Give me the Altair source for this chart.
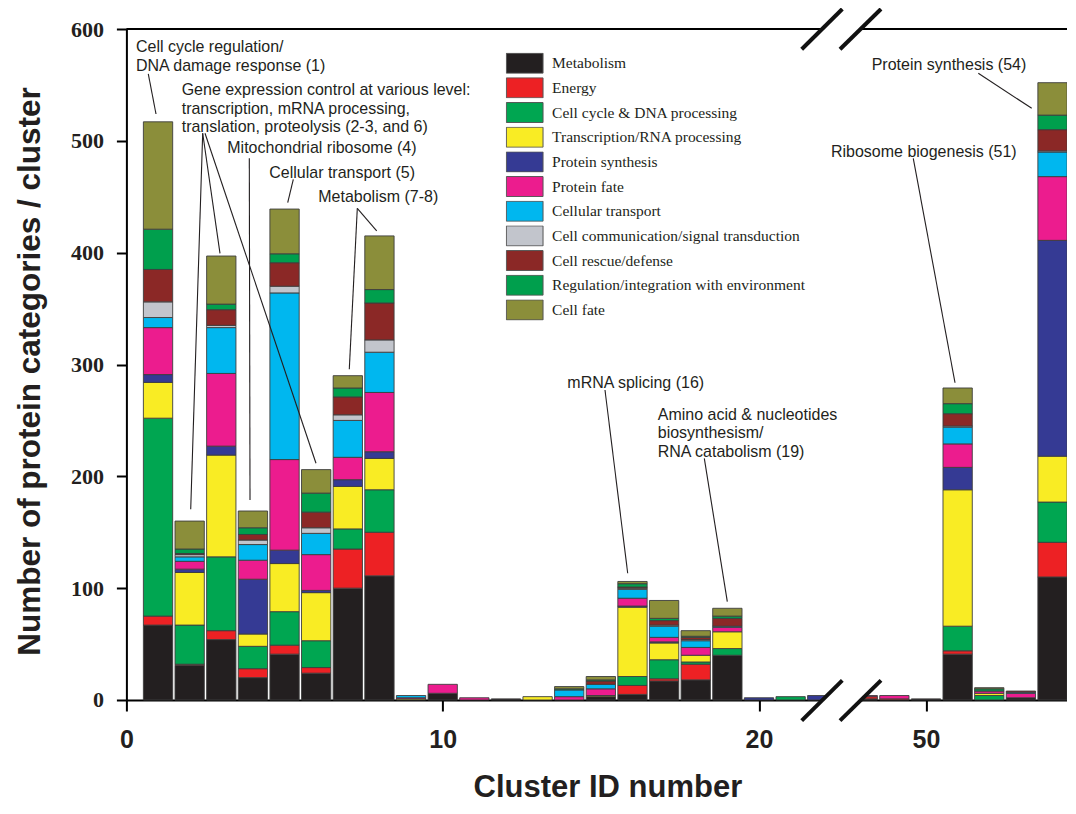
import altair as alt
import pandas as pd

# ---------------- data ----------------
clusters = list(range(1, 23)) + [48, 49, 50, 51, 52, 53, 54]

categories = [
    "Metabolism",
    "Energy",
    "Cell cycle & DNA processing",
    "Transcription/RNA processing",
    "Protein synthesis",
    "Protein fate",
    "Cellular transport",
    "Cell communication/signal transduction",
    "Cell rescue/defense",
    "Regulation/integration with environment",
    "Cell fate",
]
colors = ["#231f20", "#ed2124", "#00a651", "#f9ec24", "#353a94", "#ec1c8e",
          "#00b7ef", "#c2c5cc", "#8b2826", "#009f4d", "#8b8e3a"]

#             1    2   3   4    5   6    7    8  9 10 11 12 13 14 15  16  17  18  19 20 21 22 48 49 50   51 52 53   54
metabolism = [67, 31, 54, 20, 41, 24, 100, 111, 0, 6, 0, 1, 0, 0, 3, 5, 17, 18, 40, 0, 0, 0, 1, 0, 1, 41, 0, 2, 110]
energy = [8, 1, 8, 8, 8, 5, 35, 39, 0, 0, 0, 0, 0, 0, 0, 8, 2, 14, 0, 0, 0, 0, 2, 1, 0, 3, 0, 0, 31]
cell_cycle = [177, 35, 66, 20, 30, 24, 18, 38, 0, 0, 0, 0, 0, 0, 0, 8, 17, 2, 6, 0, 3, 0, 0, 0, 0, 22, 4, 0, 36]
transcription = [32, 47, 91, 11, 43, 43, 38, 28, 1, 0, 0, 0, 3, 0, 1, 62, 15, 6, 15, 0, 0, 0, 0, 0, 0, 122, 2, 0, 41]
protein_synth = [7, 3, 8, 49, 12, 2, 6, 6, 0, 0, 0, 0, 0, 0, 0, 1, 1, 0, 0, 2, 0, 4, 0, 0, 0, 20, 0, 0, 193]
protein_fate = [42, 7, 65, 17, 81, 32, 20, 53, 1, 8, 2, 0, 0, 3, 6, 7, 4, 7, 4, 0, 0, 0, 1, 3, 0, 21, 2, 4, 57]
transport = [9, 4, 41, 14, 149, 19, 33, 36, 2, 0, 0, 0, 0, 6, 4, 8, 10, 6, 1, 0, 0, 0, 0, 0, 0, 15, 0, 1, 22]
communication = [14, 2, 2, 4, 6, 5, 5, 11, 0, 0, 0, 0, 0, 0, 0, 1, 1, 1, 0, 0, 0, 0, 0, 0, 0, 1, 0, 0, 1]
rescue = [29, 1, 14, 5, 21, 14, 16, 33, 0, 0, 0, 0, 0, 0, 3, 1, 4, 2, 7, 0, 0, 0, 0, 0, 0, 11, 0, 1, 19]
regulation = [36, 4, 5, 6, 8, 17, 8, 12, 0, 0, 0, 0, 0, 1, 1, 3, 2, 1, 2, 0, 0, 0, 0, 0, 0, 9, 2, 0, 13]
cell_fate = [96, 25, 43, 15, 40, 21, 11, 48, 0, 0, 0, 0, 0, 2, 3, 2, 16, 5, 7, 0, 0, 0, 0, 0, 0, 14, 1, 0, 29]

series = [metabolism, energy, cell_cycle, transcription, protein_synth, protein_fate,
          transport, communication, rescue, regulation, cell_fate]

# annotation texts (one entry per text line) and their anchor points in data units
note_text = [
    "Cell cycle regulation/", "DNA damage response (1)",
    "Gene expression control at various level:", "transcription, mRNA processing,",
    "translation, proteolysis (2-3, and 6)",
    "Mitochondrial ribosome (4)", "Cellular transport (5)", "Metabolism (7-8)",
    "mRNA splicing (16)",
    "Amino acid & nucleotides", "biosynthesism/", "RNA catabolism (19)",
    "Protein synthesis (54)", "Ribosome biogenesis (51)",
]
note_x = [0.304, 0.304, 1.748, 1.748, 1.748, 3.19, 4.518, 6.067, 13.94, 16.80, 16.80, 16.80, 23.563, 22.276]
note_y = [584.2, 567.2, 545.5, 528.2, 512.1, 493.3, 471.0, 450.1, 283.2, 254.9, 238.4, 222.0, 567.8, 490.3]

# leader lines
lead_x1 = [0.692, 2.412, 2.412, 2.485, 3.886, 5.277, 7.300, 7.300, 15.131, 18.271, 26.933, 24.878]
lead_y1 = [559.8, 506.8, 506.8, 506.8, 484.4, 465.6, 439.7, 439.7, 277.2, 216.1, 560.4, 484.4]
lead_x2 = [0.936, 2.033, 2.959, 5.994, 3.908, 5.100, 7.913, 7.047, 15.849, 18.998, 28.622, 26.197]
lead_y2 = [524.0, 170.5, 399.4, 211.7, 178.8, 444.7, 419.4, 295.7, 113.3, 87.9, 529.1, 283.7]

# axis-break decoration (data units)
slash_x1 = [21.35, 22.561, 21.35, 22.561]
slash_y1 = [-18.5, -18.5, 581.9, 581.9]
slash_x2 = [22.634, 23.857, 22.634, 23.857]
slash_y2 = [17.6, 17.6, 617.9, 617.9]
band_x1 = [21.955, 21.955]
band_y1 = [-18.5, 581.9]
band_x2 = [23.245, 23.245]
band_y2 = [17.6, 617.9]

BREAK_SHIFT = 24.72   # clusters after the break are drawn shifted left by this amount
X_MAX = 29.75
W, H = 941, 671

rows = []
for ci, (cat, vals) in enumerate(zip(categories, series)):
    for cl, v in zip(clusters, vals):
        if v > 0:
            rows.append(dict(cluster=cl, pos=(cl if cl <= 22 else cl - BREAK_SHIFT),
                             category=cat, idx=ci, value=v))
bars_df = pd.DataFrame(rows)

notes_df = pd.DataFrame(dict(text=note_text, x=note_x, y=note_y))
leads_df = pd.DataFrame(dict(x1=lead_x1, y1=lead_y1, x2=lead_x2, y2=lead_y2))
slash_df = pd.DataFrame(dict(x1=slash_x1, y1=slash_y1, x2=slash_x2, y2=slash_y2))
band_df = pd.DataFrame(dict(x1=band_x1, y1=band_y1, x2=band_x2, y2=band_y2))
frame_df = pd.DataFrame(dict(x1=[0], x2=[X_MAX], y=[600]))

# ---------------- scales & axes ----------------
xs = alt.Scale(domain=[0, X_MAX], nice=False, zero=False, padding=0)
ys = alt.Scale(domain=[0, 600], nice=False, padding=0)

xaxis = alt.Axis(
    values=[0, 10, 20, 50 - BREAK_SHIFT],
    labelExpr="datum.value > 22 ? '50' : datum.label",
    grid=False, domainColor="black", domainWidth=2, tickColor="black", tickWidth=2,
    tickSize=11, labelFont="Liberation Sans", labelFontWeight="bold", labelFontSize=25,
    labelColor="#231f20", labelPadding=17, labelFlush=False, labelOverlap=False,
    title="Cluster ID number", titleFont="Liberation Sans", titleFontWeight="bold",
    titleFontSize=31, titleColor="#231f20", titleX=481, titleY=88,
    titleAlign="center", titleBaseline="middle",
)
yaxis = alt.Axis(
    values=[0, 100, 200, 300, 400, 500, 600], format="d",
    grid=False, domainColor="black", domainWidth=2, tickColor="black", tickWidth=2,
    tickSize=10, labelFont="Liberation Serif", labelFontWeight="bold", labelFontSize=22,
    labelColor="#231f20", labelPadding=13, labelFlush=False,
    title="Number of protein categories / cluster", titleFont="Liberation Sans",
    titleFontWeight="bold", titleFontSize=31.5, titleColor="#231f20",
    titleX=-96, titleY=342, titleAngle=270, titleAlign="center", titleBaseline="middle",
)

bars = alt.Chart(bars_df).mark_bar(size=29.3, stroke="#3d3d3d", strokeWidth=0.9).encode(
    x=alt.X("pos:Q", scale=xs, axis=xaxis),
    y=alt.Y("value:Q", scale=ys, axis=yaxis, stack="zero"),
    color=alt.Color(
        "category:N",
        scale=alt.Scale(domain=categories, range=colors),
        title=None,
        legend=alt.Legend(
            orient="none", legendX=379.3, legendY=23.7, padding=0,
            symbolType="M-1,-0.545H1V0.545H-1Z", symbolSize=1347,
            symbolStrokeColor="#555555", symbolStrokeWidth=1, symbolOpacity=1,
            clipHeight=21, rowPadding=3.67, labelOffset=8.4,
            labelFont="Liberation Serif", labelFontSize=15.5, labelColor="#231f20",
            labelLimit=400,
        ),
    ),
    order=alt.Order("idx:Q", sort="ascending"),
)

frame = alt.Chart(frame_df).mark_rule(color="black", strokeWidth=2).encode(
    x=alt.X("x1:Q", scale=xs, axis=xaxis), x2="x2:Q",
    y=alt.Y("y:Q", scale=ys, axis=yaxis),
)

band = alt.Chart(band_df).mark_rule(color="white", strokeWidth=26, strokeCap="butt").encode(
    x=alt.X("x1:Q", scale=xs, axis=xaxis), x2="x2:Q",
    y=alt.Y("y1:Q", scale=ys, axis=yaxis), y2="y2:Q",
)

slashes = alt.Chart(slash_df).mark_rule(color="#111111", strokeWidth=4, strokeCap="butt").encode(
    x=alt.X("x1:Q", scale=xs, axis=xaxis), x2="x2:Q",
    y=alt.Y("y1:Q", scale=ys, axis=yaxis), y2="y2:Q",
)

leads = alt.Chart(leads_df).mark_rule(color="#231f20", strokeWidth=1.1).encode(
    x=alt.X("x1:Q", scale=xs, axis=xaxis), x2="x2:Q",
    y=alt.Y("y1:Q", scale=ys, axis=yaxis), y2="y2:Q",
)

notes = alt.Chart(notes_df).mark_text(
    align="left", baseline="middle", font="Liberation Sans", fontSize=16, color="#231f20"
).encode(
    x=alt.X("x:Q", scale=xs, axis=xaxis),
    y=alt.Y("y:Q", scale=ys, axis=yaxis),
    text="text:N",
)

chart = alt.layer(bars, frame, band, slashes, leads, notes).properties(
    width=W, height=H,
    autosize=alt.AutoSizeParams(type="none"),
    padding={"left": 118.4, "top": 21, "right": 0, "bottom": 105},
).configure_view(strokeWidth=0).configure(background="white")

chart.save("out.html", embed_options={"renderer": "svg", "actions": False})
